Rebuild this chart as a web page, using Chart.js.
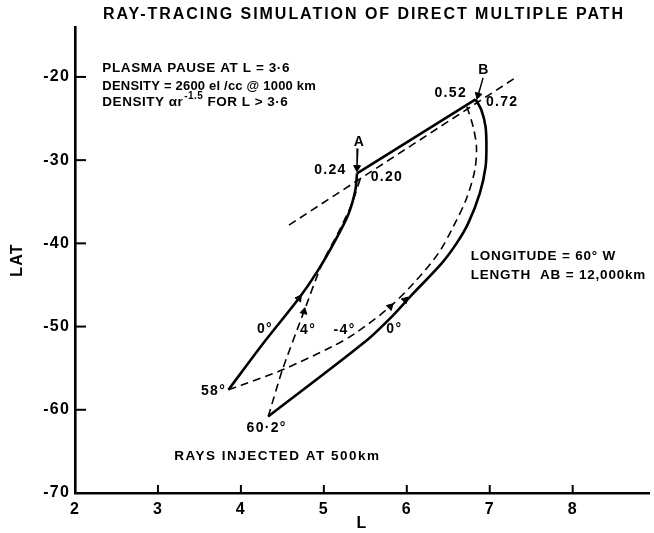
<!DOCTYPE html>
<html>
<head>
<meta charset="utf-8">
<script src="https://cdn.jsdelivr.net/npm/chart.js@4.4.0/dist/chart.umd.min.js"></script>
<style>
  html, body { margin: 0; padding: 0; background: #fff; }
</style>
</head>
<body>
<canvas id="rays" width="654" height="533"></canvas>
<script>
const xTicks = [2, 3, 4, 5, 6, 7, 8];
const yTicks = [-20, -30, -40, -50, -60, -70];

// solid ray launched at 58 deg, up to A
const ray58L   = [3.85, 4.27, 4.70, 4.92, 5.14, 5.30, 5.38, 5.40];
const ray58Lat = [-57.6, -52.0, -46.6, -43.4, -39.6, -36.4, -33.6, -31.6];

// A -> B along the duct
const abL   = [5.40, 6.83];
const abLat = [-31.6, -22.7];

// solid ray launched at 60.2 deg, drawn from B back to its start
const ray60L   = [6.83, 6.90, 6.95, 6.96, 6.95, 6.88, 6.74, 6.60, 6.42, 6.06, 5.82, 5.50, 4.33];
const ray60Lat = [-22.7, -24.0, -26.0, -28.4, -30.8, -34.0, -37.6, -40.0, -42.4, -46.2, -48.8, -51.8, -60.8];

// dashed -4 deg ray from 58 deg start
const rayM4L   = [3.85, 4.02, 4.50, 5.10, 5.38, 5.80, 6.10, 6.38, 6.56, 6.72, 6.82, 6.84, 6.80, 6.72];
const rayM4Lat = [-57.6, -57.0, -55.2, -52.4, -50.8, -47.6, -44.6, -41.2, -38.0, -34.6, -31.2, -28.4, -26.0, -23.4];

// dashed 4 deg ray from 60.2 deg start
const ray4L   = [4.33, 4.50, 4.76, 4.98, 5.18, 5.34, 5.44];
const ray4Lat = [-60.8, -55.2, -48.2, -42.4, -38.6, -35.2, -32.2];

// dashed line through A and B
const ductL   = [4.58, 7.34];
const ductLat = [-37.8, -19.9];

// pointer lines for labels A and B
const ptrAL = [5.41, 5.40], ptrALat = [-28.6, -30.9];
const ptrBL = [6.92, 6.86], ptrBLat = [-20.1, -22.2];

// arrow heads: tip and a point behind it on the same path
const arrowTipL    = [4.70, 4.76, 5.80, 5.98, 5.40, 6.86];
const arrowTipLat  = [-46.6, -48.2, -47.6, -46.8, -30.9, -22.2];
const arrowTailL   = [4.60, 4.72, 5.70, 5.88, 5.41, 6.92];
const arrowTailLat = [-48.0, -50.0, -48.6, -47.8, -28.6, -20.1];

const FONT = "'Liberation Sans', Arial, sans-serif";
const TITLE = "RAY-TRACING SIMULATION OF DIRECT MULTIPLE PATH";

const notes = [
  { t: "A", L: 5.43, lat: -27.8 },
  { t: "0.24", L: 5.08, lat: -31.2 },
  { t: "0.20", L: 5.76, lat: -32.0 },
  { t: "B", L: 6.93, lat: -19.2 },
  { t: "0.52", L: 6.53, lat: -21.9 },
  { t: "0.72", L: 7.15, lat: -23.0 },
  { t: "0°", L: 4.29, lat: -50.3 },
  { t: "4°", L: 4.81, lat: -50.4 },
  { t: "-4°", L: 5.25, lat: -50.4 },
  { t: "0°", L: 5.85, lat: -50.3 },
  { t: "58°", L: 3.67, lat: -57.7 },
  { t: "60·2°", L: 4.31, lat: -62.2 },
  { t: "RAYS INJECTED AT 500km", L: 4.44, lat: -65.6, size: 13.5, sp: 1.5 },
  { t: "LONGITUDE = 60° W", L: 6.77, lat: -41.6, align: "left", size: 13.5, sp: 0.8 },
  { t: "LENGTH  AB = 12,000km", L: 6.77, lat: -43.8, align: "left", size: 13.5, sp: 0.8 },
  { t: "PLASMA PAUSE AT L = 3·6", L: 2.33, lat: -19.0, align: "left", size: 13.5, sp: 0.6 },
  { t: "DENSITY = 2600 el /cc @ 1000 km", L: 2.33, lat: -21.1, align: "left", size: 13, sp: 0.2 }
];

const pts = (xs, ys) => xs.map((v, i) => ({ x: v, y: ys[i] }));

function solid(xs, ys, tension) {
  return { data: pts(xs, ys), showLine: true, borderColor: "#000", borderWidth: 2.6,
           pointRadius: 0, tension: tension };
}
function dashed(xs, ys, tension) {
  return { data: pts(xs, ys), showLine: true, borderColor: "#000", borderWidth: 1.6,
           borderDash: [8, 5], pointRadius: 0, tension: tension };
}

const paper = {
  id: "paper",
  beforeDraw(chart) {
    const ctx = chart.ctx;
    ctx.save();
    ctx.fillStyle = "#fff";
    ctx.fillRect(0, 0, chart.width, chart.height);
    ctx.restore();
    ctx.letterSpacing = "1.2px";
  },
  afterDraw(chart) {
    const { ctx, chartArea, scales: { x, y } } = chart;
    ctx.save();
    ctx.strokeStyle = "#000";
    ctx.lineWidth = 2;
    xTicks.slice(1).forEach(v => {
      const px = x.getPixelForValue(v);
      ctx.beginPath(); ctx.moveTo(px, chartArea.bottom); ctx.lineTo(px, chartArea.bottom - 8); ctx.stroke();
    });
    yTicks.slice(0, -1).forEach(v => {
      const py = y.getPixelForValue(v);
      ctx.beginPath(); ctx.moveTo(chartArea.left, py); ctx.lineTo(chartArea.left + 11, py); ctx.stroke();
    });

    ctx.fillStyle = "#000";
    ctx.textBaseline = "middle";

    // title, spread to the width of the original lettering
    ctx.font = "bold 16px " + FONT;
    ctx.textAlign = "left";
    ctx.letterSpacing = "0px";
    const w0 = ctx.measureText(TITLE).width;
    const sp = (520 - w0) / (TITLE.length - 1);
    ctx.letterSpacing = sp + "px";
    ctx.fillText(TITLE, 103, 15);

    notes.forEach(n => {
      ctx.font = "bold " + (n.size || 14) + "px " + FONT;
      ctx.letterSpacing = (n.sp !== undefined ? n.sp : 1.3) + "px";
      ctx.textAlign = n.align || "center";
      ctx.fillText(n.t, x.getPixelForValue(n.L), y.getPixelForValue(n.lat));
    });

    // third line with superscript
    let px = x.getPixelForValue(2.33);
    const py = y.getPixelForValue(-23.1);
    ctx.textAlign = "left";
    ctx.letterSpacing = "0.5px";
    ctx.font = "bold 13.5px " + FONT;
    ctx.fillText("DENSITY αr", px, py);
    px += ctx.measureText("DENSITY αr").width + 1;
    ctx.font = "bold 10px " + FONT;
    ctx.fillText("-1.5", px, py - 6);
    px += ctx.measureText("-1.5").width + 4;
    ctx.font = "bold 13.5px " + FONT;
    ctx.fillText("FOR L > 3·6", px, py);
    ctx.restore();
  }
};

new Chart(document.getElementById("rays"), {
  type: "scatter",
  data: {
    datasets: [
      solid(ray58L, ray58Lat, 0.3),
      solid(abL, abLat, 0),
      solid(ray60L, ray60Lat, 0.3),
      dashed(rayM4L, rayM4Lat, 0.3),
      dashed(ray4L, ray4Lat, 0.2),
      dashed(ductL, ductLat, 0),
      { data: pts(ptrAL, ptrALat), showLine: true, borderColor: "#000", borderWidth: 1.4, pointRadius: 0 },
      { data: pts(ptrBL, ptrBLat), showLine: true, borderColor: "#000", borderWidth: 1.4, pointRadius: 0 },
      {
        data: pts(arrowTipL, arrowTipLat), showLine: false, pointStyle: "triangle",
        pointRadius: 4, pointBackgroundColor: "#000", pointBorderColor: "#000", pointBorderWidth: 1,
        pointRotation: c => {
          const xs = c.chart.scales.x, ys = c.chart.scales.y, i = c.dataIndex;
          if (!xs || !ys || i === undefined) return 0;
          const dx = xs.getPixelForValue(arrowTipL[i]) - xs.getPixelForValue(arrowTailL[i]);
          const dy = ys.getPixelForValue(arrowTipLat[i]) - ys.getPixelForValue(arrowTailLat[i]);
          return Math.atan2(dx, -dy) * 180 / Math.PI;
        }
      }
    ]
  },
  options: {
    responsive: false,
    animation: false,
    layout: { padding: { top: 27, right: 4, left: 0, bottom: 0 } },
    plugins: { legend: { display: false }, tooltip: { enabled: false } },
    scales: {
      x: {
        type: "linear", min: 2, max: 8.92,
        afterBuildTicks: s => { s.ticks = xTicks.map(v => ({ value: v })); },
        afterFit: s => { s.height = 40; },
        grid: { display: false, drawTicks: false },
        border: { display: true, color: "#000", width: 2.6 },
        ticks: { color: "#000", padding: 7, font: { family: FONT, size: 16, weight: "bold" } },
        title: { display: true, text: "L", color: "#000", padding: 0,
                 font: { family: FONT, size: 16, weight: "bold" } }
      },
      y: {
        type: "linear", min: -70, max: -14,
        afterBuildTicks: s => { s.ticks = yTicks.map(v => ({ value: v })); },
        afterFit: s => { s.width = 75; },
        grid: { display: false, drawTicks: false },
        border: { display: true, color: "#000", width: 2.6 },
        ticks: { color: "#000", padding: 5, font: { family: FONT, size: 16, weight: "bold" } },
        title: { display: true, text: "LAT", color: "#000", padding: { top: 8, bottom: 0 },
                 font: { family: FONT, size: 16, weight: "bold" } }
      }
    }
  },
  plugins: [paper]
});
</script>
</body>
</html>
